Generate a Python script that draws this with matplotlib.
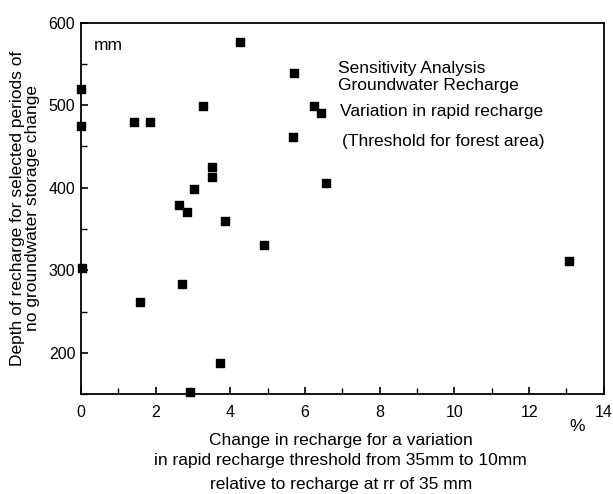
import numpy as np
import matplotlib
matplotlib.use("Agg")
import matplotlib.pyplot as plt

plt.rcParams['font.family'] = ['Liberation Sans', 'DejaVu Sans']

# change in recharge (%) and depth of recharge (mm)
change_pct = [0.0, 0.0, 1.41, 1.84, 3.27, 4.26, 5.70, 6.23, 6.44, 5.68,
              3.50, 3.50, 3.02, 6.56, 2.62, 2.83, 3.85, 4.90, 0.02, 1.58,
              2.70, 3.73, 2.92, 13.07]
depth_mm = [520, 475, 480, 480, 499, 577, 539, 499, 490, 461,
            425, 413, 398, 406, 379, 371, 360, 331, 303, 261,
            283, 188, 153, 311]

xtick_vals = [0, 2, 4, 6, 8, 10, 12, 14]
ytick_vals = [200, 300, 400, 500, 600]

fig = plt.figure(figsize=(6.13, 4.94), dpi=100)
ax = fig.add_axes([0.132, 0.2024, 0.853, 0.7516])

ax.scatter(change_pct, depth_mm, marker='s', s=26, color='black', zorder=3, clip_on=False)

ax.set_xlim(0, 14)
ax.set_ylim(150, 600)
ax.set_xticks(xtick_vals)
ax.set_xticks(np.arange(0, 15, 1), minor=True)
ax.set_yticks(ytick_vals)
ax.set_yticks(np.arange(150, 601, 50), minor=True)
ax.tick_params(which='both', direction='in', top=False, right=False, labelsize=11.5)
ax.tick_params(which='major', length=5, width=1.2)
ax.tick_params(which='minor', length=4, width=1)
ax.tick_params(axis='x', pad=8)
ax.tick_params(axis='y', pad=4)
for s in ax.spines.values():
    s.set_linewidth(1.3)

fs = 12.5
ax.text(0.025, 0.96, 'mm', transform=ax.transAxes, fontsize=fs, va='top')
ax.text(0.491, 0.878, 'Sensitivity Analysis', transform=ax.transAxes, fontsize=fs, va='center')
ax.text(0.491, 0.830, 'Groundwater Recharge', transform=ax.transAxes, fontsize=fs, va='center')
ax.text(0.495, 0.760, 'Variation in rapid recharge', transform=ax.transAxes, fontsize=fs, va='center')
ax.text(0.499, 0.681, '(Threshold for forest area)', transform=ax.transAxes, fontsize=fs, va='center')

fig.text(0.941, 0.137, '%', fontsize=fs, ha='center', va='center')

ax.set_ylabel('Depth of recharge for selected periods of\nno groundwater storage change',
             fontsize=fs, labelpad=6, linespacing=1.05)

fig.text(0.556, 0.109, 'Change in recharge for a variation', fontsize=fs, ha='center', va='center')
fig.text(0.556, 0.067, 'in rapid recharge threshold from 35mm to 10mm', fontsize=fs, ha='center', va='center')
fig.text(0.556, 0.020, 'relative to recharge at rr of 35 mm', fontsize=fs, ha='center', va='center')

fig.savefig('out.png', dpi=100)
